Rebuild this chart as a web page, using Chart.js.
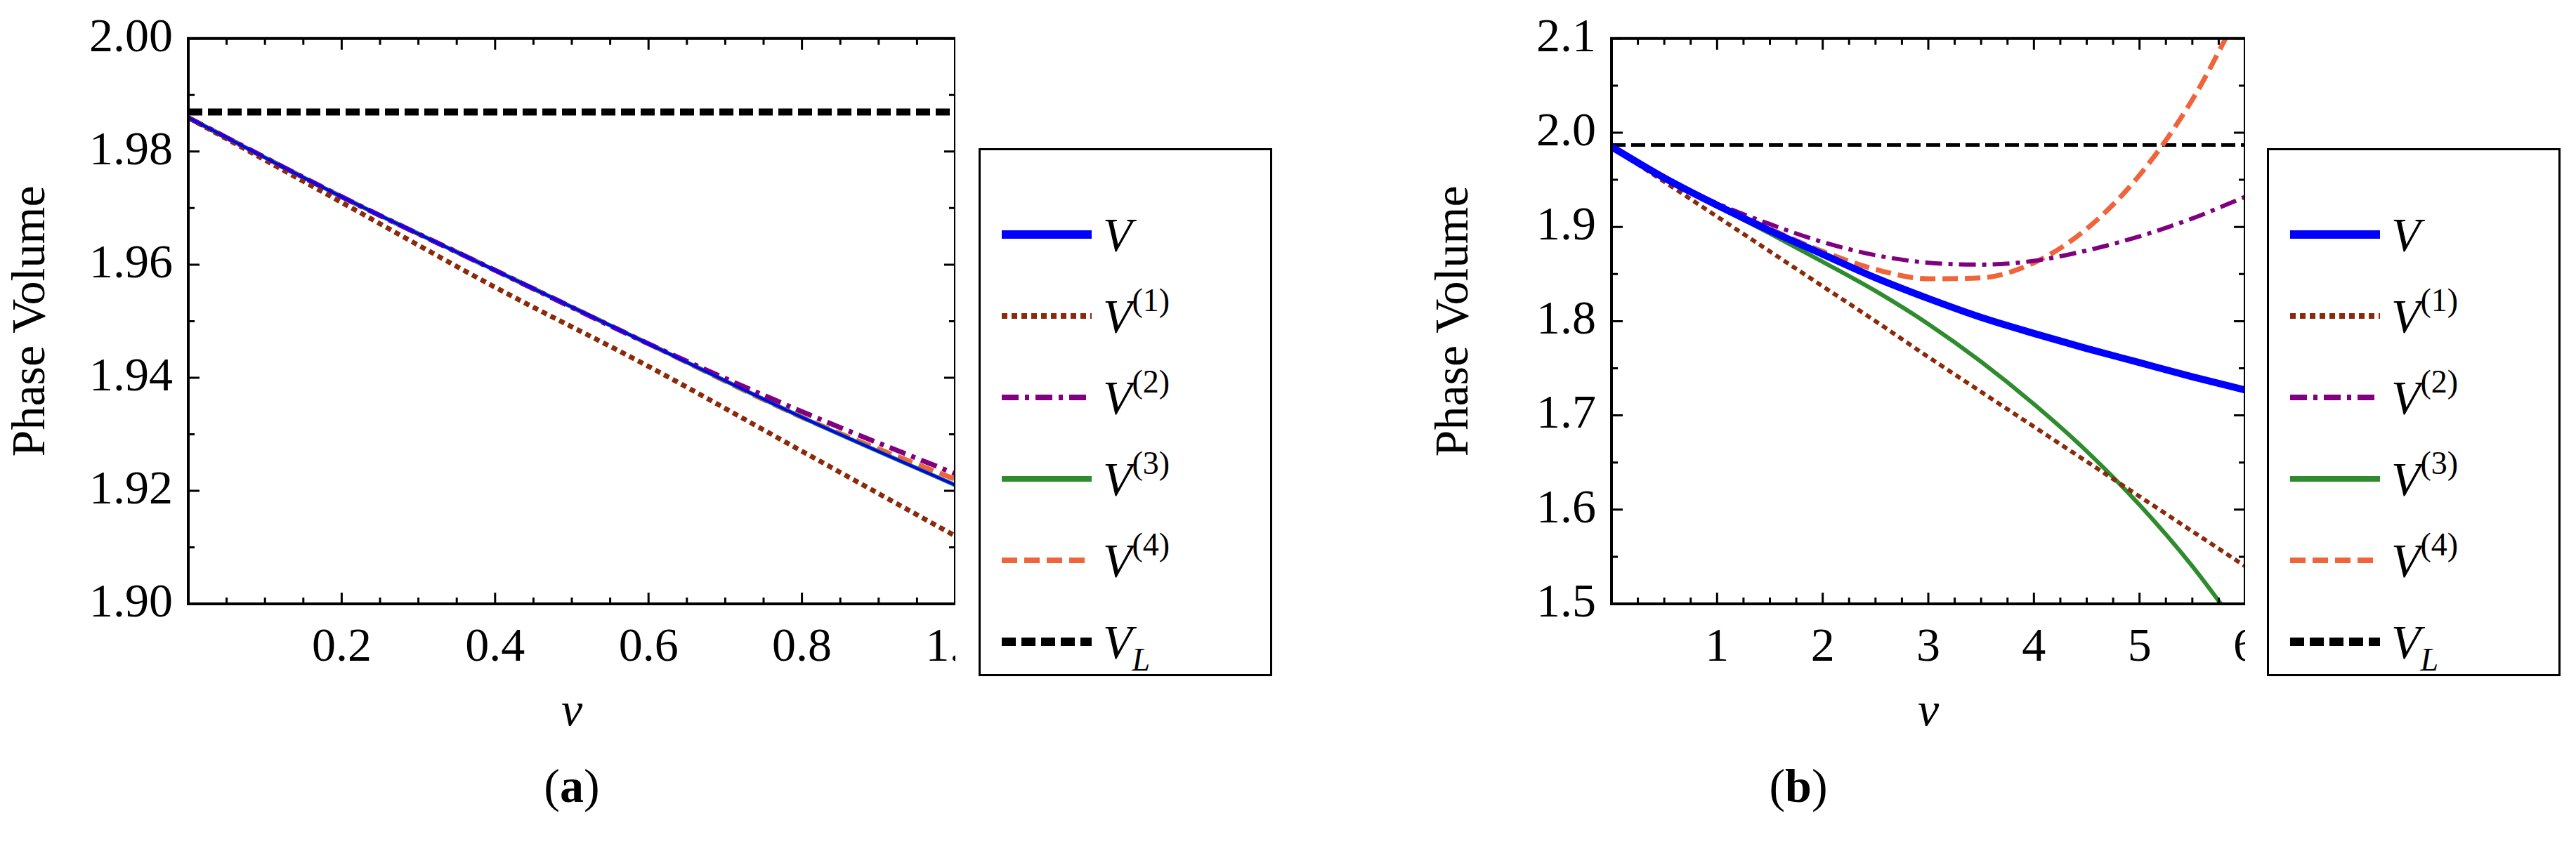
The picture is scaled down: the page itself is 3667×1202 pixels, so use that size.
<!DOCTYPE html>
<html>
<head>
<meta charset="utf-8">
<script src="https://cdn.jsdelivr.net/npm/chart.js@4.4.0/dist/chart.umd.min.js"></script>
<style>
  body { margin: 0; background: #fff; width: 3667px; height: 1202px; position: relative; overflow: hidden;
         font-family: "Liberation Serif", "DejaVu Serif", serif; }
  .wrap { position: absolute; top: 0; height: 1060px; }
  .legend { position: absolute; top: 211px; width: 418px; height: 752px; border: 3px solid #000; box-sizing: border-box; }
  .item { position: absolute; left: 24px; height: 90px; width: 380px; }
  .item svg { position: absolute; left: 0; top: 35px; }
  .item span { position: absolute; left: 150px; top: 0; font-size: 68px; font-style: italic; line-height: 90px; }
  .item sup { font-style: normal; font-size: 46px; vertical-align: 30px; line-height: 0; }
  .item sub { font-size: 46px; vertical-align: -18px; line-height: 0; }
  .cap { position: absolute; top: 1080px; font-size: 68px; width: 200px; text-align: center; }
</style>
</head>
<body>
<div class="wrap" style="left:0px"><canvas id="chartA"></canvas></div>
<div class="wrap" style="left:2026px"><canvas id="chartB"></canvas></div>
<div class="legend" id="legA" style="left:1393px"></div>
<div class="legend" id="legB" style="left:3227px"></div>
<div class="cap" style="left:714px">(<b>a</b>)</div>
<div class="cap" style="left:2460px">(<b>b</b>)</div>
<script>
// panel (a): nu from 0 to 1
const nuA = [0, 0.2, 0.4, 0.6, 0.8, 1.0];
const vA  = [1.986, 1.972, 1.959, 1.946, 1.933, 1.921];
const v1A = [1.986, 1.971, 1.956, 1.942, 1.927, 1.912];
const v2A = [1.986, 1.972, 1.959, 1.946, 1.934, 1.923];
const v3A = [1.986, 1.972, 1.959, 1.946, 1.933, 1.921];
const v4A = [1.986, 1.972, 1.959, 1.946, 1.933, 1.922];
const vlA = [1.987, 1.987, 1.987, 1.987, 1.987, 1.987];

// panel (b): nu from 0 to 6
const nuB = [0, 0.5, 1, 1.5, 2, 2.5, 3, 3.5, 4, 4.5, 5, 5.5, 6];
const vB  = [1.985, 1.952, 1.923, 1.896, 1.871, 1.846, 1.824, 1.804, 1.787, 1.771, 1.756, 1.741, 1.727];
const v1B = [1.985, 1.948, 1.911, 1.874, 1.837, 1.800, 1.762, 1.725, 1.688, 1.651, 1.614, 1.577, 1.540];
const v2B = [1.985, 1.952, 1.925, 1.903, 1.884, 1.870, 1.862, 1.860, 1.864, 1.875, 1.890, 1.909, 1.932];
const v3B = [1.985, 1.952, 1.922, 1.893, 1.863, 1.832, 1.797, 1.757, 1.712, 1.662, 1.605, 1.540, 1.465];
const v4B = [1.985, 1.952, 1.924, 1.898, 1.874, 1.855, 1.845, 1.846, 1.862, 1.898, 1.955, 2.035, 2.140];
const vlB = [1.987, 1.987, 1.987, 1.987, 1.987, 1.987, 1.987, 1.987, 1.987, 1.987, 1.987, 1.987, 1.987];

const styles = [
  { name: 'V',  sup: '',    sub: '', color: '#0000ff', dash: [],             width: 10 },
  { name: 'V',  sup: '(1)', sub: '', color: '#8b2a0a', dash: [8, 6],         width: 7 },
  { name: 'V',  sup: '(2)', sub: '', color: '#800080', dash: [24, 9, 6, 9],  width: 7 },
  { name: 'V',  sup: '(3)', sub: '', color: '#2e8b2e', dash: [],             width: 7 },
  { name: 'V',  sup: '(4)', sub: '', color: '#f0643c', dash: [22, 10],       width: 7 },
  { name: 'V',  sup: '',    sub: 'L', color: '#000000', dash: [20, 8],       width: 10 }
];

const FONT = "'Liberation Serif', 'DejaVu Serif', serif";

function pts(xs, ys) { return xs.map((x, i) => ({ x: x, y: ys[i] })); }

// Mathematica-style frame ticks on all four sides
const frameTicks = {
  id: 'frameTicks',
  afterDraw(chart, args, opts) {
    const { ctx, chartArea: a, scales } = chart;
    ctx.save();
    ctx.strokeStyle = '#000';
    ctx.lineWidth = 4;
    ctx.strokeRect(a.left, a.top, a.right - a.left, a.bottom - a.top);
    ctx.lineWidth = 3;
    const xs = scales.x, ys = scales.y;
    for (let v = xs.min; v <= xs.max + 1e-9; v += opts.xMinor) {
      const p = xs.getPixelForValue(v);
      const major = Math.abs(v / opts.xMajor - Math.round(v / opts.xMajor)) < 1e-6;
      const len = major ? 16 : 9;
      ctx.beginPath();
      ctx.moveTo(p, a.bottom); ctx.lineTo(p, a.bottom - len);
      ctx.moveTo(p, a.top); ctx.lineTo(p, a.top + len);
      ctx.stroke();
    }
    for (let v = ys.min; v <= ys.max + 1e-9; v += opts.yMinor) {
      const p = ys.getPixelForValue(v);
      const major = Math.abs((v - ys.min) / opts.yMajor - Math.round((v - ys.min) / opts.yMajor)) < 1e-6;
      const len = major ? 16 : 9;
      ctx.beginPath();
      ctx.moveTo(a.left, p); ctx.lineTo(a.left + len, p);
      ctx.moveTo(a.right, p); ctx.lineTo(a.right - len, p);
      ctx.stroke();
    }
    ctx.restore();
  }
};

function makeChart(id, xs, series, widths, xMin, xMax, xStep, yMin, yMax, yStep, xDec, yDec, ft, plotW) {
  const datasets = series.map((ys, i) => ({
    data: pts(xs, ys),
    borderColor: styles[i].color,
    borderDash: styles[i].dash,
    borderWidth: widths[i],
    pointRadius: 0,
    fill: false,
    cubicInterpolationMode: 'monotone'
  }));
  const chart = new Chart(document.getElementById(id), {
    type: 'line',
    data: { datasets: datasets },
    plugins: [frameTicks],
    options: {
      responsive: false,
      animation: false,
      devicePixelRatio: 1,
      layout: { padding: { top: 50, right: 0 } },
      plugins: { legend: { display: false }, tooltip: { enabled: false }, frameTicks: ft },
      scales: {
        x: {
          type: 'linear', min: xMin, max: xMax,
          grid: { display: false }, border: { display: false },
          ticks: { stepSize: xStep, color: '#000', font: { family: FONT, size: 68 }, padding: 14,
                   maxRotation: 0, callback: v => (v === 0 ? '' : v.toFixed(xDec)) },
          title: { display: true, text: 'ν', color: '#000', padding: { top: 30 },
                   font: { family: FONT, size: 68, style: 'italic' } },
          afterFit: s => { s.height = 200; s.paddingRight = 0; }
        },
        y: {
          min: yMin, max: yMax,
          grid: { display: false }, border: { display: false },
          ticks: { stepSize: yStep, color: '#000', font: { family: FONT, size: 68 }, padding: 14,
                   callback: v => v.toFixed(yDec) },
          title: { display: true, text: 'Phase Volume', color: '#000', padding: { bottom: 6 },
                   font: { family: FONT, size: 68 } },
          afterFit: s => { s.width = 268; }
        }
      }
    }
  });
  return chart;
}

document.getElementById('chartA').width = 1360;
document.getElementById('chartA').height = 1060;
document.getElementById('chartB').width = 1170;
document.getElementById('chartB').height = 1060;

makeChart('chartA', nuA, [vA, v1A, v2A, v3A, v4A, vlA], [4, 7, 7, 6, 7, 10],
  0, 1, 0.2, 1.90, 2.00, 0.02, 1, 2, { xMinor: 0.05, xMajor: 0.2, yMinor: 0.01, yMajor: 0.02 });
makeChart('chartB', nuB, [vB, v1B, v2B, v3B, v4B, vlB], [10, 6, 6, 6, 7, 5],
  0, 6, 1, 1.5, 2.1, 0.1, 0, 1, { xMinor: 0.25, xMajor: 1, yMinor: 0.05, yMajor: 0.1 });

function buildLegend(id) {
  const box = document.getElementById(id);
  styles.forEach((s, i) => {
    const d = document.createElement('div');
    d.className = 'item';
    d.style.top = (75 + i * 116) + 'px';
    const dash = s.dash.length ? s.dash.join(' ') : 'none';
    d.innerHTML = '<svg width="140" height="20"><line x1="6" y1="10" x2="134" y2="10" stroke="' + s.color +
      '" stroke-width="' + (i === 0 || i === 5 ? 12 : 8) + '" stroke-dasharray="' + dash + '"/></svg>' +
      '<span>' + s.name + (s.sup ? '<sup>' + s.sup + '</sup>' : '') + (s.sub ? '<sub>' + s.sub + '</sub>' : '') + '</span>';
    box.appendChild(d);
  });
}
buildLegend('legA');
buildLegend('legB');
</script>
</body>
</html>
